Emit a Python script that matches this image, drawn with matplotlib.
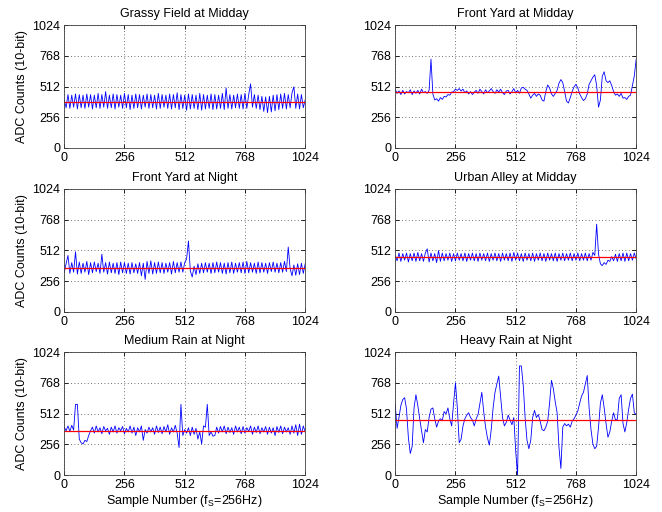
import numpy as np
import matplotlib
matplotlib.use('Agg')
import matplotlib.pyplot as plt

plt.rcParams['font.family'] = ['Liberation Sans', 'DejaVu Sans']
plt.rcParams['mathtext.fontset'] = 'custom'
plt.rcParams['mathtext.rm'] = 'Liberation Sans'
plt.rcParams['mathtext.it'] = 'Liberation Sans'
plt.rcParams['mathtext.default'] = 'regular'

# ADC samples, one value every 8 samples
titles = ['Grassy Field at Midday', 'Front Yard at Midday',
          'Front Yard at Night', 'Urban Alley at Midday',
          'Medium Rain at Night', 'Heavy Rain at Night']

grassy_midday = [
    400, 335, 445, 330, 440, 340, 450, 325, 445, 335,
    440, 330, 450, 340, 445, 325, 440, 335, 455, 330,
    445, 340, 470, 330, 440, 335, 450, 325, 445, 340,
    440, 330, 455, 335, 445, 320, 440, 330, 450, 335,
    445, 325, 440, 340, 450, 330, 445, 335, 440, 325,
    455, 330, 445, 340, 440, 330, 450, 325, 445, 335,
    460, 320, 445, 330, 440, 315, 450, 325, 445, 330,
    440, 320, 455, 315, 445, 325, 440, 330, 450, 320,
    445, 325, 440, 330, 455, 320, 500, 330, 445, 325,
    440, 335, 450, 330, 445, 325, 455, 330, 445, 535,
    340, 445, 330, 440, 320, 430, 305, 425, 295, 430,
    300, 440, 310, 445, 320, 450, 330, 455, 325, 445,
    335, 460, 510, 330, 450, 325, 445, 335, 400]

yard_midday = [
    490, 455, 475, 445, 480, 450, 470, 460, 485, 445,
    475, 455, 480, 450, 490, 460, 470, 455, 480, 740,
    450, 400, 410, 390, 420, 405, 430, 425, 445, 440,
    465, 470, 490, 480, 495, 475, 490, 460, 475, 450,
    470, 445, 465, 480, 455, 490, 470, 450, 485, 460,
    475, 495, 470, 455, 485, 465, 490, 460, 445, 475,
    480, 450, 470, 495, 460, 480, 455, 500, 505, 490,
    480, 450, 415, 440, 455, 430, 450, 440, 400, 390,
    470, 525, 500, 450, 430, 455, 480, 540, 570, 545,
    470, 390, 375, 420, 470, 510, 530, 500, 450, 420,
    395, 410, 450, 530, 560, 590, 610, 520, 340, 400,
    600, 635, 560, 545, 560, 520, 470, 440, 450, 430,
    455, 415, 420, 405, 430, 440, 520, 600, 740]

yard_night = [
    330, 400, 470, 320, 410, 330, 500, 315, 415, 320,
    405, 330, 420, 310, 410, 325, 415, 335, 405, 320,
    480, 330, 410, 315, 415, 325, 405, 320, 410, 310,
    415, 325, 410, 320, 405, 315, 410, 325, 400, 320,
    410, 300, 405, 270, 420, 320, 425, 315, 410, 320,
    415, 325, 410, 320, 405, 330, 410, 315, 420, 325,
    410, 330, 415, 330, 410, 440, 590, 340, 290, 380,
    310, 400, 320, 405, 325, 410, 330, 405, 320, 410,
    325, 415, 330, 410, 320, 405, 315, 410, 325, 415,
    320, 405, 330, 410, 325, 415, 320, 420, 325, 410,
    330, 405, 320, 415, 325, 410, 330, 405, 320, 410,
    335, 415, 330, 405, 325, 410, 330, 420, 335, 540,
    360, 300, 390, 305, 400, 310, 405, 320, 400]

alley_midday = [
    470, 425, 490, 420, 485, 430, 490, 415, 485, 425,
    490, 420, 495, 425, 485, 420, 490, 525, 415, 490,
    425, 485, 410, 510, 420, 490, 425, 485, 430, 490,
    420, 485, 425, 490, 430, 485, 425, 490, 420, 485,
    430, 490, 425, 485, 420, 490, 430, 485, 425, 490,
    420, 485, 430, 490, 425, 485, 420, 490, 430, 485,
    425, 490, 420, 495, 430, 490, 425, 485, 420, 490,
    430, 485, 425, 490, 420, 485, 430, 490, 425, 485,
    420, 490, 430, 485, 425, 490, 420, 485, 430, 490,
    425, 485, 430, 490, 425, 485, 430, 490, 425, 485,
    430, 490, 425, 485, 430, 495, 470, 730, 480, 400,
    385, 410, 395, 430, 420, 460, 425, 480, 420, 485,
    425, 490, 420, 490, 425, 485, 430, 490, 440]

rain_medium = [
    400, 370, 410, 365, 415, 375, 590, 590, 300, 270,
    260, 290, 280, 330, 370, 400, 350, 410, 360, 395,
    345, 405, 370, 390, 340, 400, 360, 410, 350, 395,
    370, 405, 345, 390, 360, 410, 350, 400, 330, 395,
    360, 410, 290, 380, 350, 400, 360, 395, 340, 410,
    355, 400, 345, 405, 360, 420, 340, 395, 360, 415,
    350, 230, 590, 330, 380, 350, 395, 330, 400, 340,
    390, 300, 360, 260, 410, 400, 590, 330, 360, 325,
    330, 400, 350, 405, 360, 410, 345, 400, 355, 395,
    340, 410, 360, 400, 345, 405, 350, 395, 365, 410,
    340, 400, 355, 410, 345, 395, 360, 405, 340, 400,
    350, 395, 330, 405, 355, 410, 345, 400, 360, 395,
    340, 410, 350, 420, 330, 425, 340, 410, 360]

rain_heavy = [
    590, 390, 480, 580, 630, 645, 550, 310, 180, 240,
    560, 670, 580, 470, 370, 270, 380, 360, 480, 550,
    560, 470, 400, 450, 470, 455, 530, 510, 560, 470,
    410, 600, 770, 560, 270, 300, 410, 470, 500, 520,
    480, 460, 410, 470, 505, 600, 690, 530, 400, 310,
    250, 380, 560, 690, 760, 825, 650, 480, 410, 440,
    500, 460, 420, 480, 200, 0, 910, 910, 750, 480,
    290, 220, 290, 480, 540, 480, 505, 450, 380, 370,
    400, 450, 600, 790, 720, 610, 520, 230, 55, 400,
    430, 410, 425, 400, 450, 470, 500, 535, 600, 660,
    690, 760, 830, 560, 380, 260, 220, 240, 400, 600,
    670, 560, 430, 316, 360, 450, 520, 460, 465, 640,
    670, 430, 360, 440, 550, 640, 675, 520, 505]

series = [grassy_midday, yard_midday, yard_night,
          alley_midday, rain_medium, rain_heavy]
means = [381, 466, 369, 457, 366, 460]

ticks = [0, 256, 512, 768, 1024]

fig = plt.figure(figsize=(6.62, 5.12), dpi=100)

lefts = [0.097, 0.597]
bottoms = [0.711, 0.391, 0.072]
w, h = 0.364, 0.240

for k, (vals, title, m) in enumerate(zip(series, titles, means)):
    row, col = divmod(k, 2)
    ax = fig.add_axes([lefts[col], bottoms[row], w, h])
    x = np.arange(len(vals)) * 8
    ax.plot(x, vals, color='#0000ff', linewidth=0.6)
    ax.axhline(m, color='#ff0000', linewidth=0.9)
    ax.set_xlim(0, 1024)
    ax.set_ylim(0, 1024)
    ax.set_xticks(ticks)
    ax.set_yticks(ticks)
    ax.tick_params(direction='in', length=3, width=0.6, labelsize=9,
                   top=True, right=True, pad=3)
    ax.grid(True, linestyle=(0, (1, 3)), color='#404040', linewidth=0.6)
    for s in ax.spines.values():
        s.set_linewidth(0.6)
        s.set_color('#404040')
    ax.set_title(title, fontsize=9, pad=6)
    if col == 0:
        ax.set_ylabel('ADC Counts (10-bit)', fontsize=9, labelpad=3)
    if row == 2:
        ax.set_xlabel('Sample Number (f$_S$=256Hz)', fontsize=9, labelpad=1)

fig.savefig('out.png', dpi=100)
